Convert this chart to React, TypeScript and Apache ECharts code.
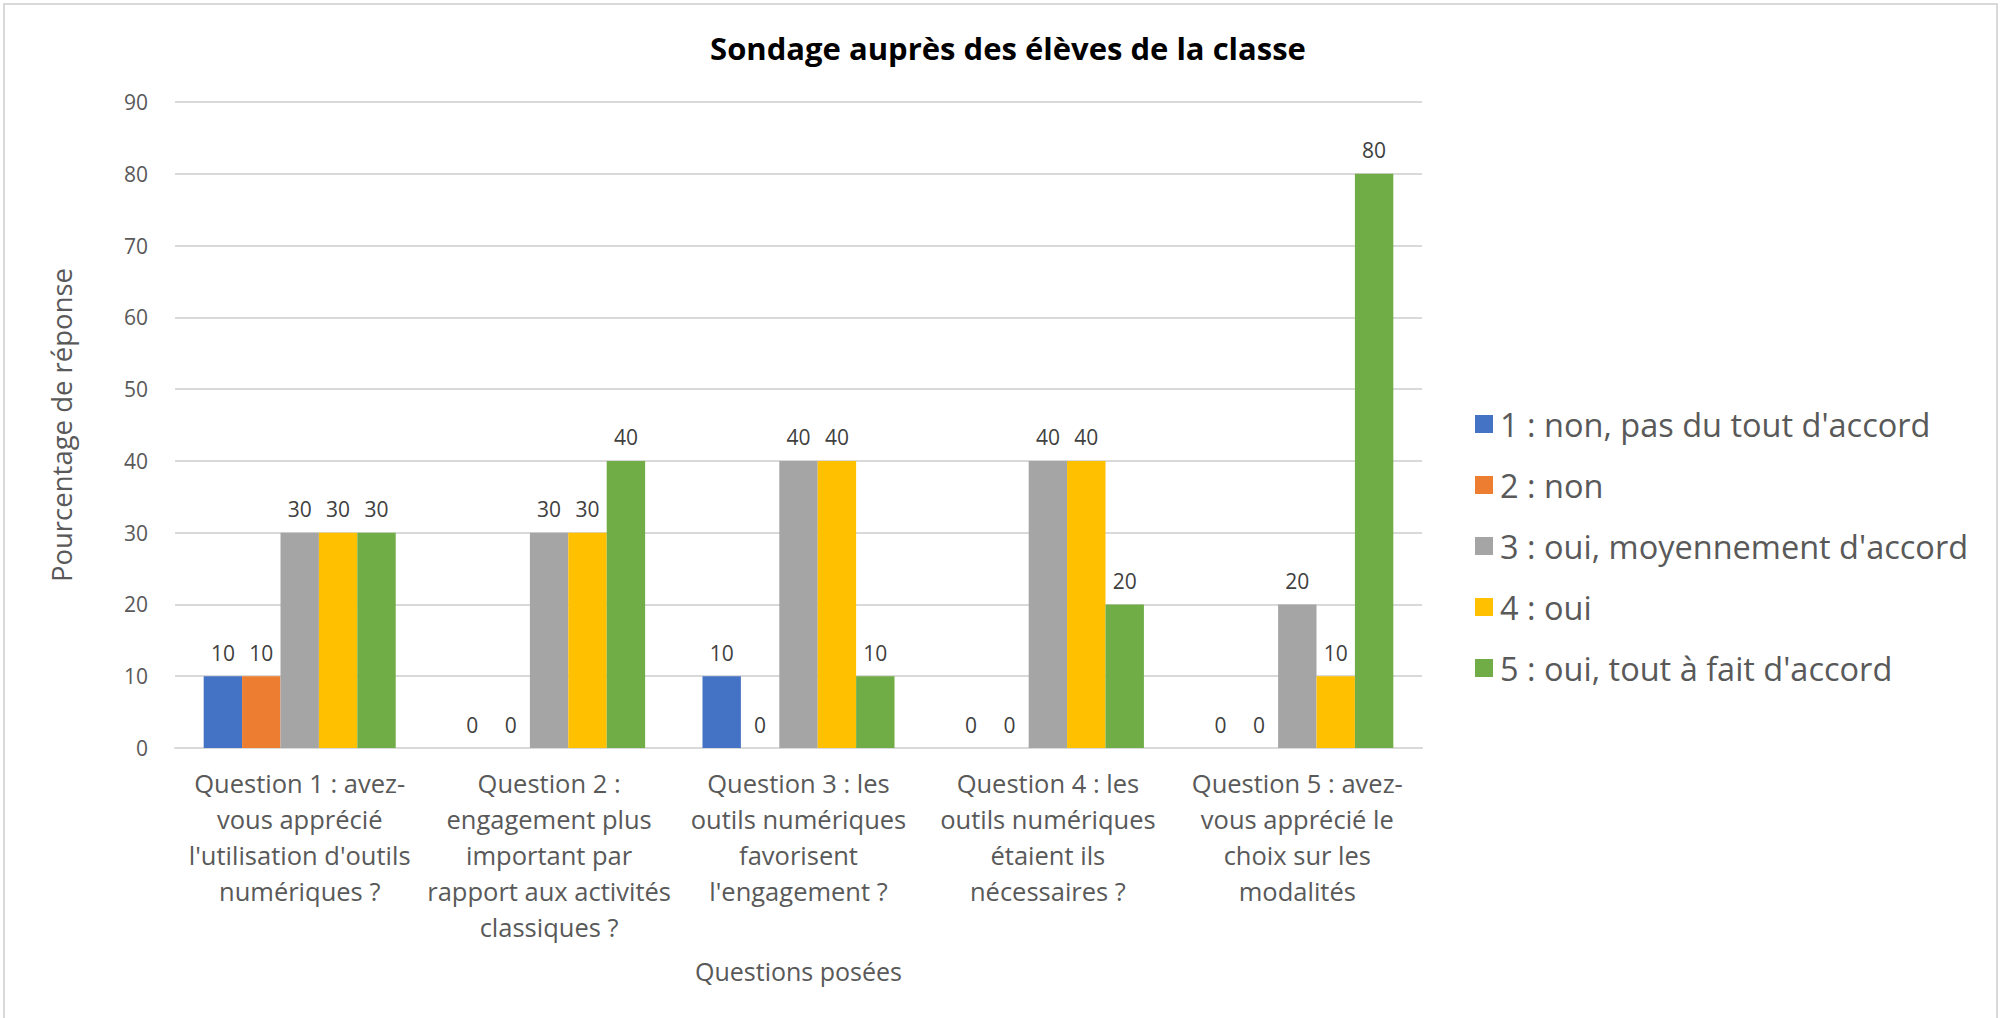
import React, { useEffect, useRef } from "react";
import * as echarts from "echarts";

const categories = [
  "Question 1 : avez-\nvous apprécié\nl'utilisation d'outils\nnumériques ?",
  "Question 2 :\nengagement plus\nimportant par\nrapport aux activités\nclassiques ?",
  "Question 3 : les\noutils numériques\nfavorisent\nl'engagement ?",
  "Question 4 : les\noutils numériques\nétaient ils\nnécessaires ?",
  "Question 5 : avez-\nvous apprécié le\nchoix sur les\nmodalités",
];
const seriesNames = [
  "1 : non, pas du tout d'accord",
  "2 : non",
  "3 : oui, moyennement d'accord",
  "4 : oui",
  "5 : oui, tout à fait d'accord",
];
const s1 = [10, 0, 10, 0, 0];
const s2 = [10, 0, 0, 0, 0];
const s3 = [30, 30, 40, 40, 20];
const s4 = [30, 30, 40, 40, 10];
const s5 = [30, 40, 10, 20, 80];
const seriesValues = [s1, s2, s3, s4, s5];
const colors = ["#4472C4", "#ED7D31", "#A5A5A5", "#FFC000", "#70AD47"];

const FONT = "'Open Sans', 'Noto Sans', sans-serif";
const TXT = "#595959";

export default function App() {
  const ref = useRef<HTMLDivElement>(null);
  useEffect(() => {
    if (!ref.current) return;
    const chart = echarts.init(ref.current, null, { renderer: "svg" });
    chart.setOption({
      animation: false,
      backgroundColor: "#ffffff",
      textStyle: { fontFamily: FONT },
      title: {
        text: "Sondage auprès des élèves de la classe",
        left: 1003,
        textAlign: "center",
        top: 27,
        textStyle: { fontFamily: FONT, fontWeight: "bold", fontSize: 31, color: "#000000" },
      },
      graphic: [
        {
          type: "rect",
          shape: { x: 4, y: 4, width: 1993, height: 1030 },
          style: { fill: "none", stroke: "#d9d9d9", lineWidth: 2 },
          silent: true,
        },
      ],
      legend: {
        orient: "vertical",
        left: 1470,
        top: 399,
        itemWidth: 18,
        itemHeight: 18,
        itemGap: 21,
        icon: "rect",
        data: seriesNames,
        textStyle: { fontFamily: FONT, fontSize: 32.5, color: TXT, lineHeight: 40, padding: [0, 0, 0, 2] },
      },
      grid: { left: 175, right: 582, top: 102, bottom: 270 },
      xAxis: {
        type: "category",
        data: categories,
        name: "Questions posées",
        nameLocation: "middle",
        nameGap: 210,
        nameTextStyle: { fontFamily: FONT, fontSize: 25, color: TXT },
        axisLine: { lineStyle: { color: "#d9d9d9", width: 2 } },
        axisTick: { show: false },
        axisLabel: {
          interval: 0,
          fontFamily: FONT,
          fontSize: 25.5,
          color: TXT,
          lineHeight: 36,
          verticalAlign: "top",
          margin: 17,
        },
      },
      yAxis: {
        type: "value",
        min: 0,
        max: 90,
        interval: 10,
        name: "Pourcentage de réponse",
        nameLocation: "middle",
        nameGap: 100,
        nameTextStyle: { fontFamily: FONT, fontSize: 27.5, color: TXT },
        axisLine: { show: false },
        axisTick: { show: false },
        axisLabel: { fontFamily: FONT, fontSize: 21, color: TXT, margin: 27 },
        splitLine: { lineStyle: { color: "#d9d9d9", width: 2 } },
      },
      series: seriesValues.map((vals, i) => ({
        type: "bar",
        name: seriesNames[i],
        data: vals,
        barGap: "0%",
        barCategoryGap: "23%",
        itemStyle: { color: colors[i] },
        label: {
          show: true,
          position: "top",
          distance: 13,
          fontFamily: FONT,
          fontSize: 21,
          color: "#404040",
        },
      })),
    });
    return () => chart.dispose();
  }, []);
  return (
    <div
      ref={ref}
      style={{ position: "fixed", left: 0, top: 0, width: 2004, height: 1018 }}
    />
  );
}
